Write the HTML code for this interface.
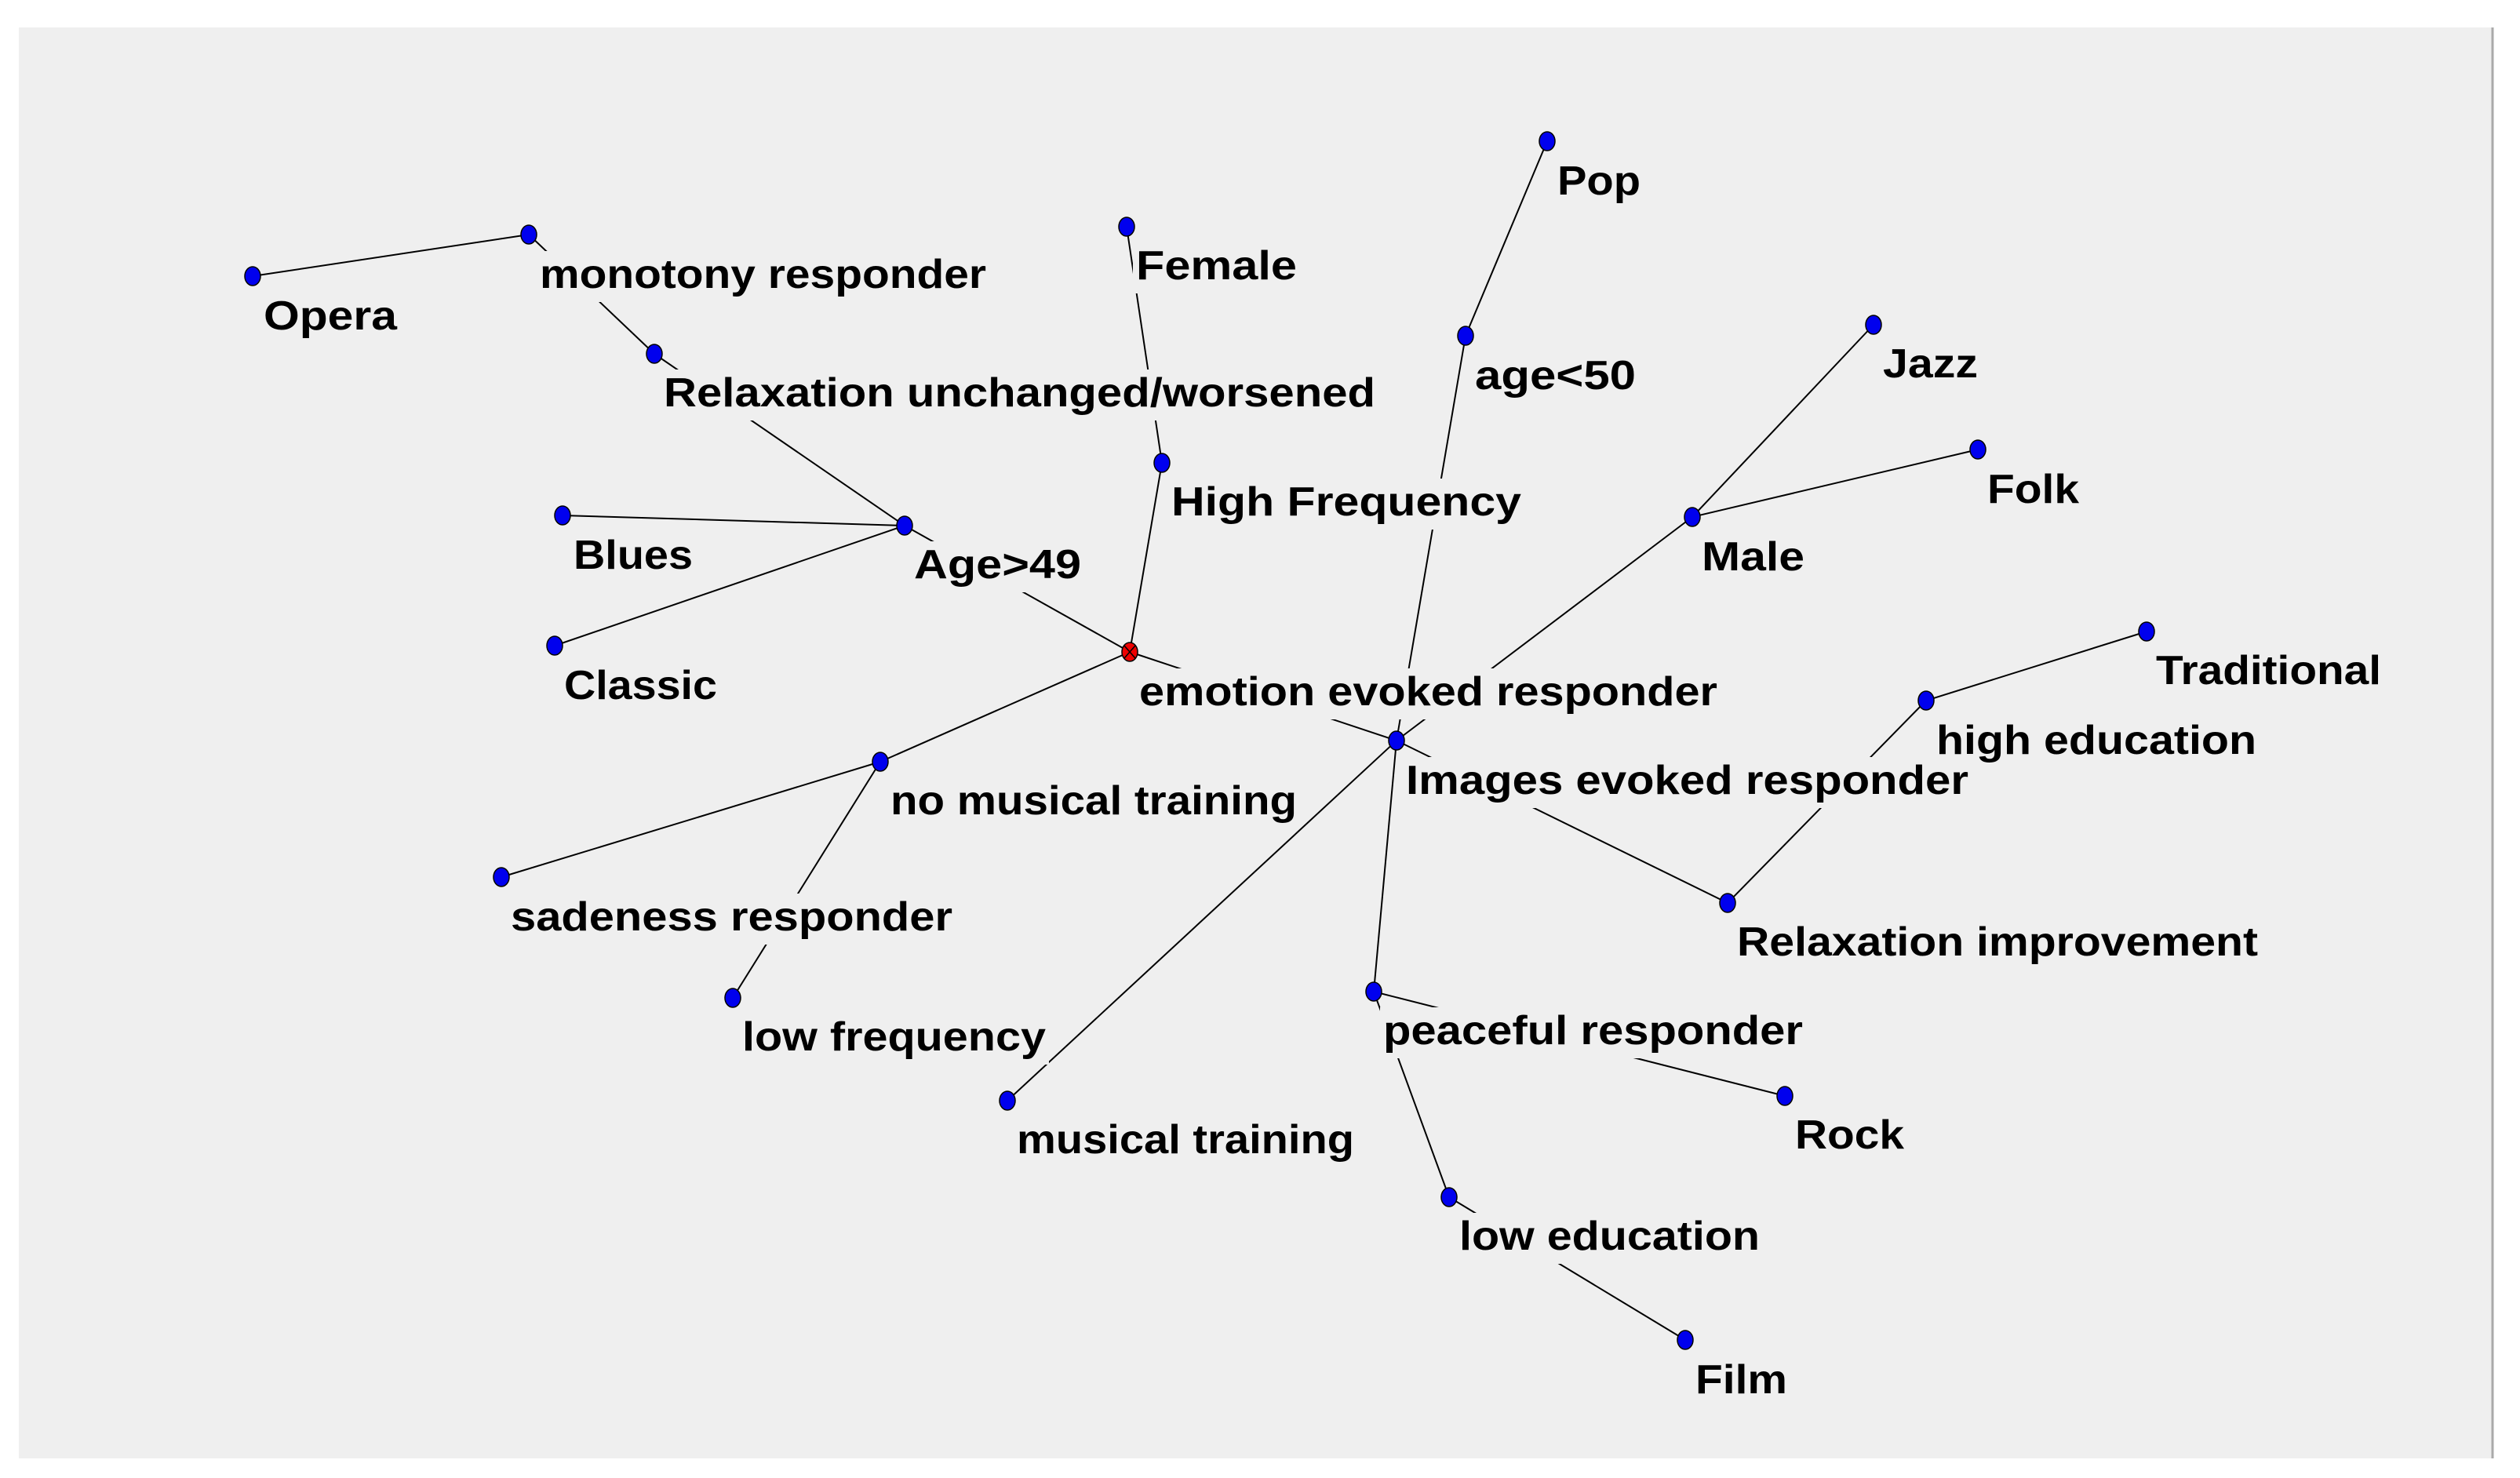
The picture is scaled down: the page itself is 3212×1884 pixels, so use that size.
<!DOCTYPE html>
<html><head><meta charset="utf-8"><style>
html,body{margin:0;padding:0;background:#fff;}
svg{display:block;}
text{font-family:"Liberation Sans",sans-serif;font-weight:bold;font-size:52px;fill:#000;}
</style></head><body>
<svg width="3212" height="1884" viewBox="0 0 3212 1884" xmlns="http://www.w3.org/2000/svg">
<rect x="0" y="0" width="3212" height="1884" fill="#fff"/>
<rect x="24" y="35" width="3152" height="1824" fill="#efefef"/>
<line x1="3177" y1="35" x2="3177" y2="1859" stroke="#aaa" stroke-width="3"/>
<g stroke="#000" stroke-width="2" fill="none">
<line x1="322" y1="352" x2="674" y2="299"/>
<line x1="674" y1="299" x2="834" y2="451"/>
<line x1="834" y1="451" x2="1153" y2="670"/>
<line x1="717" y1="657" x2="1153" y2="670"/>
<line x1="707" y1="823" x2="1153" y2="670"/>
<line x1="1153" y1="670" x2="1440" y2="831"/>
<line x1="1436" y1="289" x2="1481" y2="590"/>
<line x1="1481" y1="590" x2="1440" y2="831"/>
<line x1="1440" y1="831" x2="1122" y2="971"/>
<line x1="1122" y1="971" x2="639" y2="1118"/>
<line x1="1122" y1="971" x2="934" y2="1272"/>
<line x1="1972" y1="180" x2="1868" y2="428"/>
<line x1="1868" y1="428" x2="1780" y2="944"/>
<line x1="2388" y1="414" x2="2157" y2="659"/>
<line x1="2521" y1="573" x2="2157" y2="659"/>
<line x1="2157" y1="659" x2="1780" y2="944"/>
<line x1="2736" y1="805" x2="2455" y2="893"/>
<line x1="2455" y1="893" x2="2202" y2="1151"/>
<line x1="1780" y1="944" x2="2202" y2="1151"/>
<line x1="1780" y1="944" x2="1751" y2="1264"/>
<line x1="1780" y1="944" x2="1284" y2="1403"/>
<line x1="1440" y1="831" x2="1780" y2="944"/>
<line x1="1751" y1="1264" x2="1847" y2="1526"/>
<line x1="1751" y1="1264" x2="2275" y2="1397"/>
<line x1="1847" y1="1526" x2="2148" y2="1708"/>
</g>
<g fill="#efefef">
<rect x="332" y="373" width="178" height="65"/>
<rect x="684" y="320" width="577" height="65"/>
<rect x="842" y="471" width="915" height="65"/>
<rect x="727" y="678" width="160" height="65"/>
<rect x="1161" y="690" width="221" height="65"/>
<rect x="715" y="844" width="203" height="65"/>
<rect x="1444" y="309" width="213" height="65"/>
<rect x="1489" y="610" width="454" height="65"/>
<rect x="1448" y="852" width="745" height="65"/>
<rect x="1131" y="991" width="526" height="65"/>
<rect x="647" y="1139" width="571" height="65"/>
<rect x="942" y="1292" width="395" height="65"/>
<rect x="1292" y="1423" width="438" height="65"/>
<rect x="1981" y="201" width="114" height="65"/>
<rect x="1876" y="449" width="213" height="65"/>
<rect x="2396" y="434" width="129" height="65"/>
<rect x="2529" y="594" width="125" height="65"/>
<rect x="2165" y="680" width="139" height="65"/>
<rect x="1788" y="965" width="725" height="65"/>
<rect x="2744" y="825" width="295" height="65"/>
<rect x="2464" y="914" width="416" height="65"/>
<rect x="2210" y="1171" width="672" height="65"/>
<rect x="1759" y="1284" width="543" height="65"/>
<rect x="2284" y="1417" width="147" height="65"/>
<rect x="1856" y="1546" width="391" height="65"/>
<rect x="2157" y="1729" width="125" height="65"/>
</g>
<g>
<text x="336" y="420" textLength="170" lengthAdjust="spacingAndGlyphs">Opera</text>
<text x="688" y="367" textLength="569" lengthAdjust="spacingAndGlyphs">monotony responder</text>
<text x="846" y="518" textLength="907" lengthAdjust="spacingAndGlyphs">Relaxation unchanged/worsened</text>
<text x="731" y="725" textLength="152" lengthAdjust="spacingAndGlyphs">Blues</text>
<text x="1165" y="737" textLength="213" lengthAdjust="spacingAndGlyphs">Age&gt;49</text>
<text x="719" y="891" textLength="195" lengthAdjust="spacingAndGlyphs">Classic</text>
<text x="1448" y="356" textLength="205" lengthAdjust="spacingAndGlyphs">Female</text>
<text x="1493" y="657" textLength="446" lengthAdjust="spacingAndGlyphs">High Frequency</text>
<text x="1452" y="899" textLength="737" lengthAdjust="spacingAndGlyphs">emotion evoked responder</text>
<text x="1135" y="1038" textLength="518" lengthAdjust="spacingAndGlyphs">no musical training</text>
<text x="651" y="1186" textLength="563" lengthAdjust="spacingAndGlyphs">sadeness responder</text>
<text x="946" y="1339" textLength="387" lengthAdjust="spacingAndGlyphs">low frequency</text>
<text x="1296" y="1470" textLength="430" lengthAdjust="spacingAndGlyphs">musical training</text>
<text x="1985" y="248" textLength="106" lengthAdjust="spacingAndGlyphs">Pop</text>
<text x="1880" y="496" textLength="205" lengthAdjust="spacingAndGlyphs">age&lt;50</text>
<text x="2400" y="481" textLength="121" lengthAdjust="spacingAndGlyphs">Jazz</text>
<text x="2533" y="641" textLength="117" lengthAdjust="spacingAndGlyphs">Folk</text>
<text x="2169" y="727" textLength="131" lengthAdjust="spacingAndGlyphs">Male</text>
<text x="1792" y="1012" textLength="717" lengthAdjust="spacingAndGlyphs">Images evoked responder</text>
<text x="2748" y="872" textLength="287" lengthAdjust="spacingAndGlyphs">Traditional</text>
<text x="2468" y="961" textLength="408" lengthAdjust="spacingAndGlyphs">high education</text>
<text x="2214" y="1218" textLength="664" lengthAdjust="spacingAndGlyphs">Relaxation improvement</text>
<text x="1763" y="1331" textLength="535" lengthAdjust="spacingAndGlyphs">peaceful responder</text>
<text x="2288" y="1464" textLength="139" lengthAdjust="spacingAndGlyphs">Rock</text>
<text x="1860" y="1593" textLength="383" lengthAdjust="spacingAndGlyphs">low education</text>
<text x="2161" y="1776" textLength="117" lengthAdjust="spacingAndGlyphs">Film</text>
</g>
<g fill="#0000ee" stroke="#000" stroke-width="1.5">
<ellipse cx="322" cy="352" rx="10" ry="12"/>
<ellipse cx="674" cy="299" rx="10" ry="12"/>
<ellipse cx="834" cy="451" rx="10" ry="12"/>
<ellipse cx="717" cy="657" rx="10" ry="12"/>
<ellipse cx="1153" cy="670" rx="10" ry="12"/>
<ellipse cx="707" cy="823" rx="10" ry="12"/>
<ellipse cx="1436" cy="289" rx="10" ry="12"/>
<ellipse cx="1481" cy="590" rx="10" ry="12"/>
<ellipse cx="1122" cy="971" rx="10" ry="12"/>
<ellipse cx="639" cy="1118" rx="10" ry="12"/>
<ellipse cx="934" cy="1272" rx="10" ry="12"/>
<ellipse cx="1284" cy="1403" rx="10" ry="12"/>
<ellipse cx="1972" cy="180" rx="10" ry="12"/>
<ellipse cx="1868" cy="428" rx="10" ry="12"/>
<ellipse cx="2388" cy="414" rx="10" ry="12"/>
<ellipse cx="2521" cy="573" rx="10" ry="12"/>
<ellipse cx="2157" cy="659" rx="10" ry="12"/>
<ellipse cx="1780" cy="944" rx="10" ry="12"/>
<ellipse cx="2736" cy="805" rx="10" ry="12"/>
<ellipse cx="2455" cy="893" rx="10" ry="12"/>
<ellipse cx="2202" cy="1151" rx="10" ry="12"/>
<ellipse cx="1751" cy="1264" rx="10" ry="12"/>
<ellipse cx="2275" cy="1397" rx="10" ry="12"/>
<ellipse cx="1847" cy="1526" rx="10" ry="12"/>
<ellipse cx="2148" cy="1708" rx="10" ry="12"/>
<ellipse cx="1440" cy="831" rx="10" ry="12" fill="#ee0000"/>
</g>
<g stroke="#000" stroke-width="1.5">
<line x1="1433" y1="823" x2="1447" y2="839"/>
<line x1="1447" y1="823" x2="1433" y2="839"/>
</g>
</svg>
</body></html>
